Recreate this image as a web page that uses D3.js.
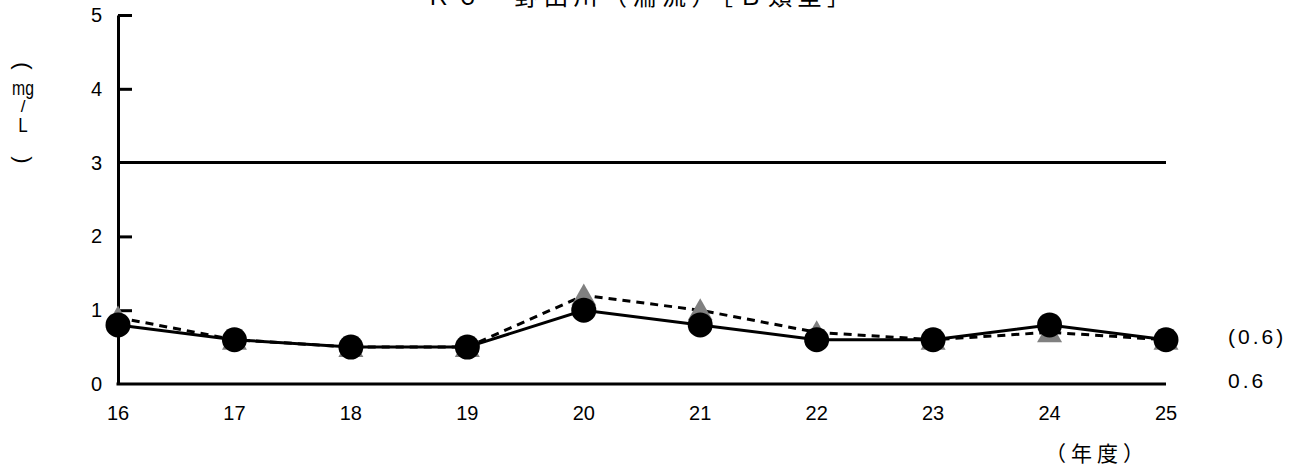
<!DOCTYPE html>
<html>
<head>
<meta charset="utf-8">
<script src="https://cdn.jsdelivr.net/npm/d3@7"></script>
<style>
  html, body { margin: 0; padding: 0; background: #fff; }
  svg { display: block; }
  .num { font-family: "Liberation Sans", Arial, sans-serif; font-size: 20px; fill: #000; }
  .jp { font-family: "Noto Sans CJK JP", sans-serif; fill: #000; }
</style>
</head>
<body>
<div id="chart"></div>
<script>
let years = ["16", "17", "18", "19", "20", "21", "22", "23", "24", "25"];
let annual = [0.8, 0.6, 0.5, 0.5, 1.0, 0.8, 0.6, 0.6, 0.8, 0.6];   // 年平均値
let pct75 = [0.9, 0.6, 0.5, 0.5, 1.2, 1.0, 0.7, 0.6, 0.7, 0.6];    // 75%値
let yTicks = [0, 1, 2, 3, 4, 5];
let standard = 3;
let title = "Ｋ６　野田川（湍流）［Ｂ類型］";
let rightLabels = ["(0.6)", "0.6"];

let width = 1301, height = 470;

let svg = d3.select("#chart").append("svg")
    .attr("width", width)
    .attr("height", height);

let x = d3.scalePoint()
    .domain(years)
    .range([118, 1166]);

let y = d3.scaleLinear()
    .domain([0, 5])
    .range([384, 15]);

// title (cut off at the top edge)
svg.append("text")
    .attr("class", "jp")
    .attr("x", 426)
    .attr("y", 5)
    .style("font-size", "24px")
    .style("letter-spacing", "5.5px")
    .text(title);

// y axis with inward ticks
let yAxis = d3.axisRight(y)
    .tickValues(yTicks.filter(d => d !== 0 && d !== standard))
    .tickSize(14)
    .tickSizeOuter(0)
    .tickFormat("");

let ya = svg.append("g")
    .attr("transform", `translate(${x(years[0])},0)`)
    .call(yAxis);
ya.selectAll("path, line")
    .attr("stroke", "#000")
    .attr("stroke-width", 3);

// x axis line
svg.append("line")
    .attr("x1", x(years[0]) - 1.5)
    .attr("x2", x(years[years.length - 1]))
    .attr("y1", y(0))
    .attr("y2", y(0))
    .attr("stroke", "#000")
    .attr("stroke-width", 3);

// environmental standard
svg.append("line")
    .attr("x1", x(years[0]))
    .attr("x2", x(years[years.length - 1]))
    .attr("y1", y(standard))
    .attr("y2", y(standard))
    .attr("stroke", "#000")
    .attr("stroke-width", 3);

svg.selectAll(".ylab")
    .data(yTicks)
    .enter().append("text")
    .attr("class", "num ylab")
    .attr("x", 102)
    .attr("y", d => y(d) + 7)
    .attr("text-anchor", "end")
    .text(d => d);

svg.selectAll(".xlab")
    .data(years)
    .enter().append("text")
    .attr("class", "num xlab")
    .attr("x", d => x(d))
    .attr("y", 420)
    .attr("text-anchor", "middle")
    .text(d => d);

// unit label, stacked vertically; brackets turned sideways
let unitParts = [
    {t: "(", y: 66, s: 22, sx: 1, rot: 90, mid: true},
    {t: "mg", y: 95, s: 21, sx: 0.75, rot: 0},
    {t: "/", y: 112, s: 17, sx: 1, rot: 0},
    {t: "L", y: 132, s: 20, sx: 0.85, rot: 0},
    {t: ")", y: 160, s: 22, sx: 1, rot: 90, mid: true}
];
svg.selectAll(".unit")
    .data(unitParts)
    .enter().append("text")
    .attr("class", "unit")
    .attr("transform", d => `translate(23,${d.y}) rotate(${d.rot}) scale(${d.sx},1)`)
    .attr("text-anchor", "middle")
    .attr("dominant-baseline", d => d.mid ? "central" : "auto")
    .style("font-family", "Liberation Sans")
    .style("font-size", d => d.s + "px")
    .style("fill", "#000")
    .text(d => d.t);

svg.append("text")
    .attr("class", "jp")
    .attr("x", 1097)
    .attr("y", 461)
    .attr("text-anchor", "middle")
    .style("font-size", "21px")
    .style("letter-spacing", "5px")
    .text("（年度）");

// 75% value: dashed line with grey triangles
let line = d3.line()
    .x((d, i) => x(years[i]))
    .y(d => y(d));

svg.append("path")
    .datum(pct75)
    .attr("d", line)
    .attr("fill", "none")
    .attr("stroke", "#000")
    .attr("stroke-width", 3)
    .attr("stroke-dasharray", "8,6");

svg.selectAll(".tri")
    .data(pct75)
    .enter().append("path")
    .attr("class", "tri")
    .attr("d", "M0,-12L12.5,10L-12.5,10Z")
    .attr("transform", (d, i) => `translate(${x(years[i])},${y(d)})`)
    .attr("fill", "#808080");

// annual mean: solid line with black circles
svg.append("path")
    .datum(annual)
    .attr("d", line)
    .attr("fill", "none")
    .attr("stroke", "#000")
    .attr("stroke-width", 3);

svg.selectAll(".dot")
    .data(annual)
    .enter().append("circle")
    .attr("class", "dot")
    .attr("cx", (d, i) => x(years[i]))
    .attr("cy", d => y(d))
    .attr("r", 12.5)
    .attr("fill", "#000");

// values for the last year at the right edge
svg.selectAll(".rlab")
    .data(rightLabels)
    .enter().append("text")
    .attr("class", "num rlab")
    .attr("x", 1228)
    .attr("y", (d, i) => [344, 388][i])
    .style("font-size", "21px")
    .style("letter-spacing", "3px")
    .text(d => d);
</script>
</body>
</html>
